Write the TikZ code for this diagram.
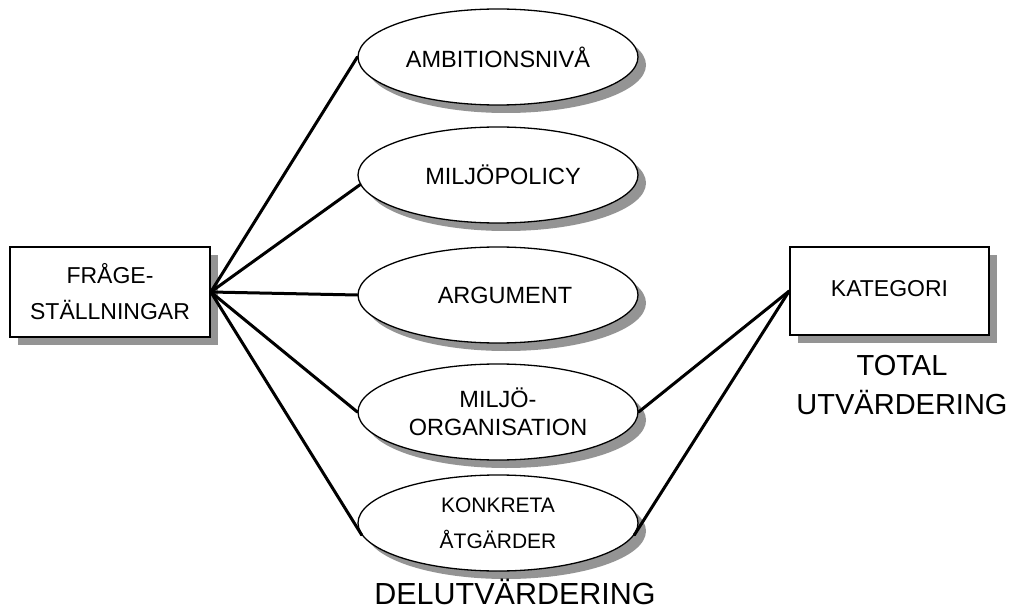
\documentclass[tikz,border=0pt]{standalone}
\usepackage{fontspec}
\setmainfont{Liberation Sans}
\usetikzlibrary{shapes.geometric,shadows}
\begin{document}
\begin{tikzpicture}[x=1pt,y=-1pt,
  shad/.style={drop shadow={shadow xshift=8pt,shadow yshift=-8pt,fill=black!42,opacity=1}},
  ell/.style={ellipse,draw,line width=1.3pt,fill=white,shad,minimum width=280pt,minimum height=96pt,inner sep=0pt,align=center,font=\fontsize{23.5}{28}\selectfont},
  boxn/.style={rectangle,draw,line width=1.6pt,fill=white,shad,inner sep=0pt,align=center},
  conn/.style={line width=3pt,line cap=round,line join=round},
  bigtext/.style={align=center,inner sep=0pt}]
\useasboundingbox (0,0) rectangle (1019,612);
% nodes
\node[boxn,minimum width=200pt,minimum height=90pt,font=\fontsize{23}{36}\selectfont] (fr) at (110,292) {FRÅGE-\\STÄLLNINGAR};
\node[ell] (e1) at (498,57) {AMBITIONSNIVÅ};
\node[ell] (e2) at (498,175) {\hspace*{10pt}MILJÖPOLICY};
\node[ell] (e3) at (498,295) {\hspace*{14pt}ARGUMENT};
\node[ell] (e4) at (498,412) {MILJÖ-\\ORGANISATION};
\node[ell,font=\fontsize{21}{36}\selectfont] (e5) at (498,523) {KONKRETA\\ÅTGÄRDER};
\node[boxn,minimum width=199pt,minimum height=88pt,font=\fontsize{23}{28}\selectfont] (kat) at (889.5,291) {\raisebox{6pt}{KATEGORI}};
\node[bigtext,font=\fontsize{30.5}{36}\selectfont] (del) at (515,592) {DELUTVÄRDERING};
\node[bigtext,font=\fontsize{29}{39}\selectfont] (tot) at (902,385) {TOTAL\\UTVÄRDERING};
% connectors
\draw[conn] (fr.east) -- (e1.west);
\draw[conn] (fr.east) -- (e2.184);
\draw[conn] (fr.east) -- (e3.west);
\draw[conn] (fr.east) -- (e4.west);
\draw[conn] (fr.east) -- (e5.185);
\draw[conn] (kat.west) -- (e4.east);
\draw[conn] (kat.west) -- (e5.-5);
\end{tikzpicture}
\end{document}
